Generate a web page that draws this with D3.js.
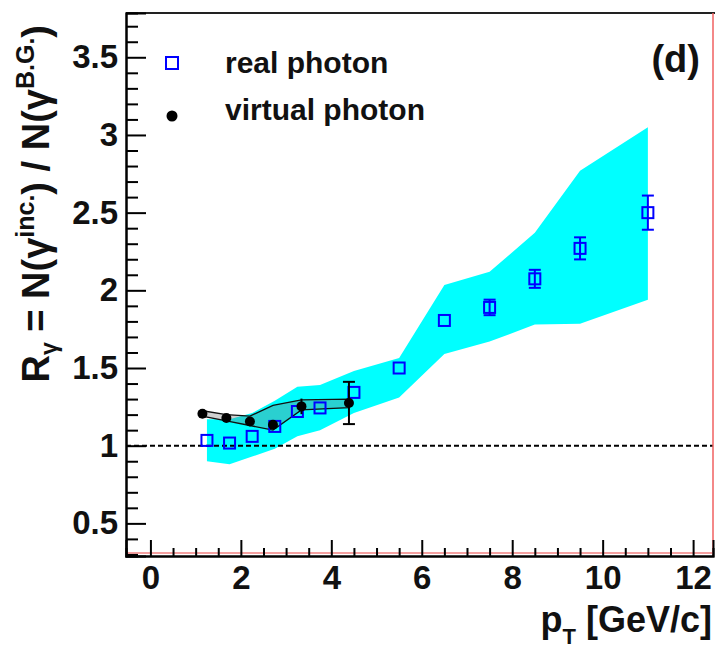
<!DOCTYPE html>
<html>
<head>
<meta charset="utf-8">
<script src="https://cdn.jsdelivr.net/npm/d3@7"></script>
<style>
  html, body { margin: 0; padding: 0; background: #fff; }
  svg { display: block; font-family: "Liberation Sans", Arial, sans-serif; font-weight: bold; }
</style>
</head>
<body>
<svg id="chart" width="715" height="648"></svg>
<script>
// Real photon R_gamma vs pT
const realPt   = [1.25, 1.75, 2.25, 2.75, 3.25, 3.75, 4.5, 5.5, 6.5, 7.5, 8.5, 9.5, 11.0];
const realR    = [1.034, 1.017, 1.06, 1.124, 1.22, 1.243, 1.343, 1.50, 1.806, 1.89, 2.074, 2.27, 2.50];
const realErr  = [0.01, 0.01, 0.01, 0.01, 0.01, 0.01, 0.01, 0.02, 0.03, 0.05, 0.058, 0.071, 0.11];

// Systematic uncertainty band of the real photon measurement
const bandPt    = [1.25, 1.75, 2.25, 2.75, 3.25, 3.75, 4.5, 5.5, 6.5, 7.5, 8.5, 9.5, 11.0];
const bandUpper = [1.17, 1.17, 1.21, 1.29, 1.38, 1.39, 1.48, 1.565, 2.035, 2.12, 2.37, 2.77, 3.05];
const bandLower = [0.90, 0.88, 0.93, 0.98, 1.06, 1.10, 1.21, 1.31, 1.59, 1.67, 1.78, 1.785, 1.94];

// Virtual photon R_gamma vs pT
const virtPt    = [1.15, 1.68, 2.2, 2.71, 3.34, 4.39];
const virtR     = [1.206, 1.178, 1.156, 1.135, 1.253, 1.275];
const virtErr   = [0.005, 0.005, 0.01, 0.01, 0.05, 0.136];
const virtSysHi = [1.225, 1.20, 1.19, 1.26, 1.295, 1.30];
const virtSysLo = [1.19, 1.16, 1.13, 1.10, 1.23, 1.245];

// Axis ticks
const xMajor = [0, 2, 4, 6, 8, 10, 12];
const yMajor = [0.5, 1, 1.5, 2, 2.5, 3, 3.5];
const legendLabels = ["real photon", "virtual photon"];
const panelLabel = "(d)";

const svg = d3.select("#chart");
const L = 126, R = 713, T = 13, B = 556;

const x = d3.scaleLinear().domain([-0.54, 12.44]).range([L, R]);
const y = d3.scaleLinear().domain([0.29, 3.785]).range([B, T]);

// Real photon systematic band
const bandData = bandPt.map((p, i) => ({ p, lo: bandLower[i], hi: bandUpper[i] }));
svg.append("path")
  .datum(bandData)
  .attr("fill", "#00ffff")
  .attr("d", d3.area().x(d => x(d.p)).y0(d => y(d.lo)).y1(d => y(d.hi)));

// Reference line at R = 1
svg.append("line")
  .attr("x1", L).attr("x2", R)
  .attr("y1", y(1)).attr("y2", y(1))
  .attr("stroke", "#000").attr("stroke-width", 2)
  .attr("stroke-dasharray", "5,3");

// Virtual photon systematic band
const vData = virtPt.map((p, i) => ({ p, lo: virtSysLo[i], hi: virtSysHi[i] }));
svg.append("path")
  .datum(vData)
  .attr("fill", "rgba(120,120,120,0.35)")
  .attr("stroke", "#111").attr("stroke-width", 1.3)
  .attr("d", d3.area().x(d => x(d.p)).y0(d => y(d.lo)).y1(d => y(d.hi)));

// Real photon error bars
const realData = realPt.map((p, i) => ({ p, r: realR[i], e: realErr[i] }));
const rb = svg.append("g").attr("stroke", "#0000ff").attr("stroke-width", 2);
realData.filter(d => y(d.r - d.e) - y(d.r + d.e) > 12).forEach(d => {
  rb.append("line").attr("x1", x(d.p)).attr("x2", x(d.p)).attr("y1", y(d.r - d.e)).attr("y2", y(d.r + d.e));
  [d.r - d.e, d.r + d.e].forEach(v =>
    rb.append("line").attr("x1", x(d.p) - 6).attr("x2", x(d.p) + 6).attr("y1", y(v)).attr("y2", y(v)));
});
svg.append("g").selectAll("rect").data(realData).join("rect")
  .attr("x", d => x(d.p) - 5.5).attr("y", d => y(d.r) - 5.5)
  .attr("width", 11).attr("height", 11)
  .attr("fill", "none").attr("stroke", "#0000ff").attr("stroke-width", 2);

// Virtual photon points and error bars
const virtData = virtPt.map((p, i) => ({ p, r: virtR[i], e: virtErr[i] }));
const vb = svg.append("g").attr("stroke", "#000").attr("stroke-width", 2);
virtData.filter(d => y(d.r - d.e) - y(d.r + d.e) > 12).forEach(d => {
  vb.append("line").attr("x1", x(d.p)).attr("x2", x(d.p)).attr("y1", y(d.r - d.e)).attr("y2", y(d.r + d.e));
  if (y(d.r - d.e) - y(d.r + d.e) > 25)
    [d.r - d.e, d.r + d.e].forEach(v =>
      vb.append("line").attr("x1", x(d.p) - 6).attr("x2", x(d.p) + 6).attr("y1", y(v)).attr("y2", y(v)));
});
svg.append("g").selectAll("circle").data(virtData).join("circle")
  .attr("cx", d => x(d.p)).attr("cy", d => y(d.r)).attr("r", 5)
  .attr("fill", "#000");

// Frame
svg.append("line").attr("x1", L).attr("x2", 715).attr("y1", T).attr("y2", T)
  .attr("stroke", "#222").attr("stroke-width", 2);
svg.append("line").attr("x1", R).attr("x2", R).attr("y1", T).attr("y2", B)
  .attr("stroke", "#f06060").attr("stroke-width", 1.5);
svg.append("line").attr("x1", L).attr("x2", R).attr("y1", B - 3).attr("y2", B - 3)
  .attr("stroke", "#f4a0a0").attr("stroke-width", 2);

// Axes: major and minor ticks drawn inside the frame
function styleAxis(g) {
  g.select(".domain").attr("stroke", "#000").attr("stroke-width", 2);
  g.selectAll(".tick line").attr("stroke", "#000").attr("stroke-width", 2);
  g.selectAll(".tick text").attr("fill", "#111").attr("font-size", 33).attr("font-weight", "bold")
    .attr("font-family", "'Liberation Sans', Arial, sans-serif");
}
const xMinor = d3.range(0, 12.01, 0.5).filter(v => !xMajor.includes(v));
const yMinor = d3.range(0.3, 3.79, 0.1).map(v => +v.toFixed(1)).filter(v => !yMajor.includes(v));

svg.append("g").attr("transform", `translate(0,${B})`)
  .call(d3.axisBottom(x).tickValues(xMinor).tickSize(-8).tickFormat(""))
  .call(styleAxis);
svg.append("g").attr("transform", `translate(0,${B})`)
  .call(d3.axisBottom(x).tickValues(xMajor).tickSize(-16).tickPadding(10).tickFormat(d3.format("d")))
  .call(styleAxis)
  .call(g => g.selectAll(".tick text").attr("dy", "0.71em").attr("y", 10));

svg.append("g").attr("transform", `translate(${L},0)`)
  .call(d3.axisLeft(y).tickValues(yMinor).tickSize(-12).tickFormat(""))
  .call(styleAxis);
svg.append("g").attr("transform", `translate(${L},0)`)
  .call(d3.axisLeft(y).tickValues(yMajor).tickSize(-20).tickPadding(8).tickFormat(d3.format("")))
  .call(styleAxis);

// Axis titles
const xt = svg.append("text").attr("x", 712).attr("y", 632)
  .attr("text-anchor", "end").attr("font-size", 36).attr("fill", "#111");
xt.append("tspan").text("p");
xt.append("tspan").attr("font-size", 22).attr("dy", 12).text("T");
xt.append("tspan").attr("dy", -12).text(" [GeV/c]");

const yt = svg.append("text").attr("transform", "translate(49,25) rotate(-90)")
  .attr("text-anchor", "end").attr("font-size", 38).attr("fill", "#111");
yt.append("tspan").text("R");
yt.append("tspan").attr("font-size", 23).attr("dy", 8).text("γ");
yt.append("tspan").attr("dy", -8).text(" = N(γ");
yt.append("tspan").attr("font-size", 25).attr("dy", -15).text("inc.");
yt.append("tspan").attr("dy", 15).text(") / N(γ");
yt.append("tspan").attr("font-size", 25).attr("dy", -15).text("B.G.");
yt.append("tspan").attr("dy", 15).text(")");

// Legend
const lg = svg.append("g");
lg.append("rect").attr("x", 166).attr("y", 57).attr("width", 12).attr("height", 12)
  .attr("fill", "none").attr("stroke", "#0000ff").attr("stroke-width", 2);
lg.append("circle").attr("cx", 172).attr("cy", 116).attr("r", 5.5).attr("fill", "#000");
lg.selectAll("text").data(legendLabels).join("text")
  .attr("x", 225).attr("y", (d, i) => 73 + i * 47)
  .attr("font-size", 30).attr("fill", "#111").text(d => d);

// Panel label
svg.append("text").attr("x", 700).attr("y", 72).attr("text-anchor", "end")
  .attr("font-size", 38).attr("fill", "#111").text(panelLabel);
</script>
</body>
</html>
